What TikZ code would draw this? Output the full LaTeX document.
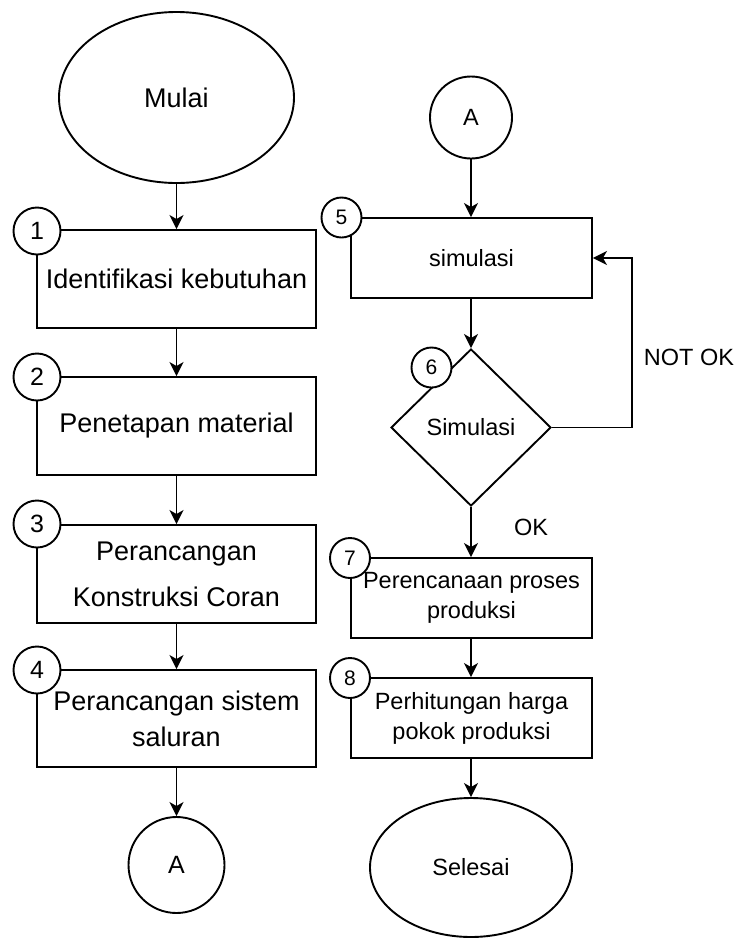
\documentclass[tikz,border=0pt]{standalone}
\usepackage{fontspec}
\setmainfont{Liberation Sans}
\usetikzlibrary{shapes.geometric,arrows.meta}
\begin{document}
\begin{tikzpicture}[x=1pt,y=-1pt,
  line width=1.9pt,
  arr/.style={-{Stealth[length=14pt,width=14pt,inset=4pt]}},
  boxL/.style={draw, rectangle, minimum width=279pt, minimum height=98pt, inner sep=0pt, align=center, font=\fontsize{27}{36}\selectfont},
  boxR/.style={draw, rectangle, minimum width=241pt, minimum height=80pt, inner sep=0pt, align=center, font=\fontsize{23.5}{30}\selectfont},
  numL/.style={draw, circle, fill=white, minimum size=47pt, inner sep=0pt, font=\fontsize{25}{25}\selectfont},
  numR/.style={draw, circle, fill=white, minimum size=40pt, inner sep=0pt, font=\fontsize{21}{21}\selectfont},
  term/.style={draw, ellipse, inner sep=0pt},
  conn/.style={draw, circle, inner sep=0pt},
  lbl/.style={inner sep=0pt, font=\fontsize{23.5}{23.5}\selectfont}
]
\useasboundingbox (0,0) rectangle (739,938);

% left column
\node[term, minimum width=235pt, minimum height=171pt, font=\fontsize{27}{27}\selectfont] (mulai) at (176.5,97.5) {Mulai};
\node[boxL] (b1) at (176.5,279) {Identifikasi kebutuhan};
\node[boxL] (b2) at (176.5,426) {Penetapan material};
\node[boxL] (b3) at (176.5,574) {Perancangan\\[10pt]Konstruksi Coran};
\node[boxL, minimum height=97pt] (b4) at (176.5,718.5) {Perancangan sistem\\saluran};
\node[conn, minimum size=96pt, font=\fontsize{25}{25}\selectfont] (aL) at (176.5,865) {A};

% right column
\node[conn, minimum size=82pt, font=\fontsize{23.5}{23.5}\selectfont] (aR) at (471,117.5) {A};
\node[boxR] (b5) at (471.5,258) {simulasi};
\node[draw, diamond, minimum width=160pt, minimum height=157pt, inner sep=0pt, font=\fontsize{23.5}{23.5}\selectfont] (d6) at (471,427.5) {Simulasi};
\node[boxR] (b7) at (471.5,598) {Perencanaan proses\\produksi};
\node[boxR] (b8) at (471.5,718) {Perhitungan harga\\pokok produksi};
\node[term, minimum width=202pt, minimum height=139pt, font=\fontsize{23.5}{23.5}\selectfont] (selesai) at (471,867.5) {Selesai};

% connectors
\draw[arr] (mulai) -- (b1);
\draw[arr] (b1) -- (b2);
\draw[arr] (b2) -- (b3);
\draw[arr] (b3) -- (b4);
\draw[arr] (b4) -- (aL);
\draw[arr] (aR) -- (b5.north -| aR);
\draw[arr] (b5.south -| aR) -- (d6);
\coordinate (loopA) at (632,427.5);
\coordinate (loopB) at (632,258);
\draw[arr] (d6.east) -- (loopA) -- (loopB) -- (b5.east);
\draw[arr] (d6.south) -- (b7.north -| d6.south);
\draw[arr] (b7.south -| d6.south) -- (b8.north -| d6.south);
\draw[arr] (b8.south -| selesai) -- (selesai);

\node[lbl] (notok) at (689,357) {NOT OK};
\node[lbl] (ok) at (531,527) {OK};

% number circles
\node[numL] (n1) at (37,231) {1};
\node[numL] (n2) at (37,377) {2};
\node[numL] (n3) at (37,524) {3};
\node[numL] (n4) at (37,670) {4};
\node[numR] (n5) at (341.5,217.5) {5};
\node[numR] (n6) at (431.5,367.5) {6};
\node[numR] (n7) at (350,558) {7};
\node[numR] (n8) at (350,678) {8};
\end{tikzpicture}
\end{document}
